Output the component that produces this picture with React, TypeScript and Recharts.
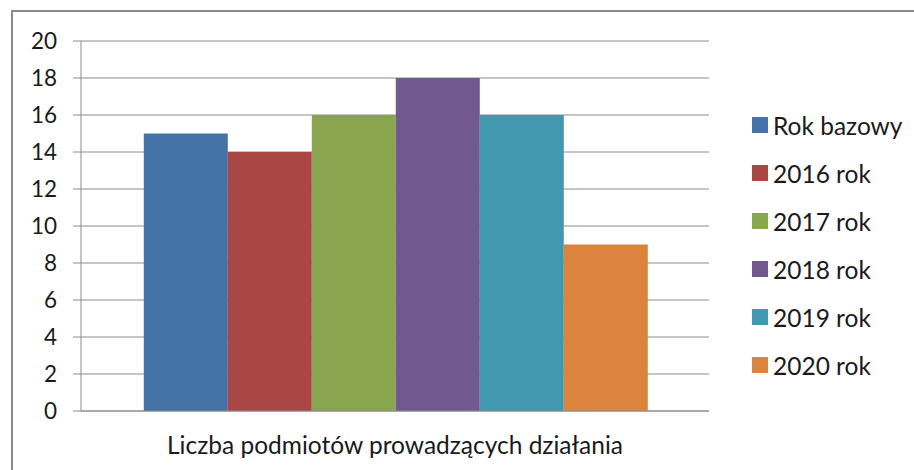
import { BarChart, Bar, XAxis, YAxis, CartesianGrid } from "recharts";

const categories = ["Liczba podmiotów prowadzących działania"];
const seriesNames = ["Rok bazowy", "2016 rok", "2017 rok", "2018 rok", "2019 rok", "2020 rok"];
const seriesValues = [15, 14, 16, 18, 16, 9];
const yTicks = [0, 2, 4, 6, 8, 10, 12, 14, 16, 18, 20];
const colors = ["#4572A7", "#AA4643", "#89A54E", "#71588F", "#4198AF", "#DB843D"];

const data = categories.map((name) => {
  const row: Record<string, string | number> = { name };
  seriesNames.forEach((s, i) => {
    row[s] = seriesValues[i];
  });
  return row;
});

const FONT = "Lato, 'Open Sans', sans-serif";

const LegendBox = () => (
  <div style={{ fontFamily: FONT, fontSize: 24.5, color: "#1a1a1a" }}>
    {seriesNames.map((s, i) => (
      <div key={s} style={{ display: "flex", alignItems: "center", height: 48 }}>
        <span
          style={{
            display: "inline-block",
            width: 16,
            height: 16,
            background: colors[i],
            marginRight: 5,
          }}
        />
        <span>{s}</span>
      </div>
    ))}
  </div>
);

const App = () => {
  return (
    <div
      style={{
        position: "absolute",
        left: 0,
        top: 0,
        width: 914,
        height: 470,
        overflow: "hidden",
        background: "#fff",
      }}
    >
      <div
        style={{
          position: "absolute",
          left: 11,
          top: 10,
          width: 1000,
          height: 600,
          border: "2px solid #8a8a8a",
        }}
      />
      <div style={{ position: "absolute", left: 0, top: 0 }}>
        <BarChart
          width={914}
          height={470}
          data={data}
          barCategoryGap="10%"
          barGap={0}
          margin={{ top: 41, right: 205, bottom: 0, left: 0 }}
        >
          <CartesianGrid vertical={false} stroke="#8c8c8c" />
          <XAxis
            dataKey="name"
            axisLine={{ stroke: "#8c8c8c" }}
            tickLine={false}
            tickSize={0}
            tickMargin={26}
            height={59}
            tick={{ fontFamily: FONT, fontSize: 24.5, fill: "#1a1a1a" }}
          />
          <YAxis
            domain={[0, 20]}
            ticks={yTicks}
            width={81}
            interval={0}
            axisLine={{ stroke: "#8c8c8c" }}
            tickLine={{ stroke: "#8c8c8c" }}
            tickSize={8}
            tickMargin={16}
            tick={{ fontFamily: FONT, fontSize: 22.5, fill: "#1a1a1a" }}
          />
          {seriesNames.map((s, i) => (
            <Bar key={s} dataKey={s} fill={colors[i]} isAnimationActive={false} />
          ))}
        </BarChart>
      </div>
      <div style={{ position: "absolute", left: 752, top: 101 }}>
        <LegendBox />
      </div>
    </div>
  );
};

export default App;
